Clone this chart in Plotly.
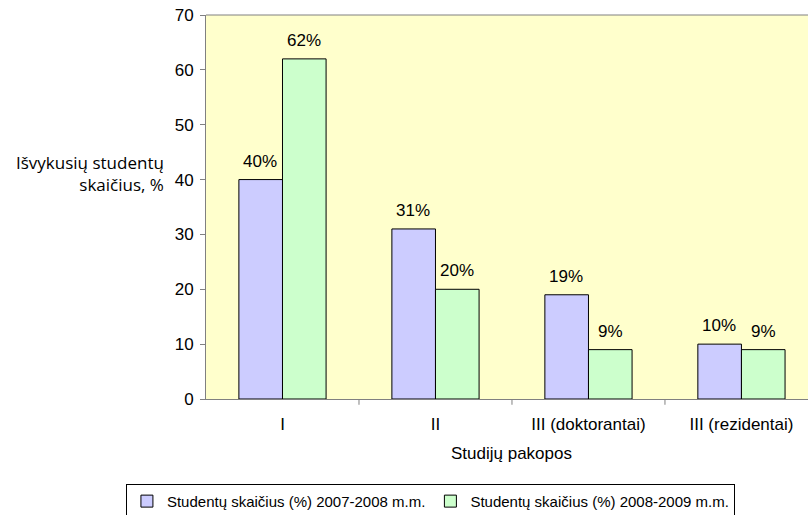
import plotly.graph_objects as go

categories = ["I", "II", "III (doktorantai)", "III (rezidentai)"]
series_2007 = [40, 31, 19, 10]
series_2008 = [62, 20, 9, 9]
name_2007 = "Studentų skaičius (%) 2007-2008 m.m."
name_2008 = "Studentų skaičius (%) 2008-2009 m.m."
y_ticks = [0, 10, 20, 30, 40, 50, 60, 70]

font_main = "Liberation Sans, Arial, sans-serif"
colors = ["#CCCCFF", "#CCFFCC"]

fig = go.Figure()
for name, vals, col in [(name_2007, series_2007, colors[0]), (name_2008, series_2008, colors[1])]:
    fig.add_trace(go.Bar(
        x=categories, y=vals, name=name,
        marker=dict(color=col, line=dict(color="#000000", width=1)),
        hoverinfo="x+y",
    ))

# data labels above bars
annotations = []
for shift, vals in [(-22, series_2007), (22, series_2008)]:
    for c, v in zip(categories, vals):
        annotations.append(dict(
            x=c, y=v, xref="x", yref="y", text=f"{v}%", showarrow=False,
            xanchor="center", yanchor="bottom", xshift=shift, yshift=7,
            font=dict(family=font_main, size=17, color="#000"),
        ))

annotations += [
    dict(text="Išvykusių studentų<br>skaičius, %", xref="paper", yref="paper",
         x=-0.066, y=0.588, xanchor="right", yanchor="middle", align="right",
         showarrow=False, font=dict(family="Open Sans, sans-serif", size=17, color="#000")),
    dict(text="Studijų pakopos", xref="x", yref="paper",
         x=1.5, y=-0.143, xanchor="center", yanchor="middle",
         showarrow=False, font=dict(family=font_main, size=17, color="#000")),
]

fig.update_layout(
    width=808, height=515,
    margin=dict(l=206, r=0, t=15, b=116, autoexpand=False),
    paper_bgcolor="white",
    plot_bgcolor="#FFFFCC",
    barmode="group",
    bargap=0.43,
    bargroupgap=0,
    font=dict(family=font_main, size=17, color="#000"),
    showlegend=True,
    legend=dict(
        orientation="h", x=-0.133, y=-0.221, xanchor="left", yanchor="top",
        bordercolor="#000", borderwidth=1, bgcolor="white",
        font=dict(family=font_main, size=15, color="#000"),
        itemwidth=30, tracegroupgap=0,
    ),
    xaxis=dict(
        range=[-0.5, 3.435], showgrid=False,
        showline=True, linecolor="#808080", linewidth=1,
        ticks="", tickfont=dict(family=font_main, size=17),
        ticklabelstandoff=10,
    ),
    yaxis=dict(
        range=[0, 70], tickvals=y_ticks, showgrid=False,
        showline=True, linecolor="#808080", linewidth=1,
        ticks="outside", ticklen=5, tickcolor="#808080",
        tickfont=dict(family=font_main, size=17),
        ticklabelstandoff=3,
        zeroline=False,
    ),
    shapes=[
        dict(type="line", xref="paper", yref="paper", x0=0, x1=1, y0=1, y1=1,
             line=dict(color="#808080", width=1)),
    ] + [
        dict(type="line", xref="x", yref="paper", x0=b, x1=b, y0=0, y1=-0.015,
             line=dict(color="#808080", width=1))
        for b in [0.5, 1.5, 2.5]
    ],
    annotations=annotations,
)

fig.write_html(
    "out.html",
    config={"displayModeBar": False},
    post_script="document.body.style.margin='0px';document.body.style.overflow='hidden';",
)
